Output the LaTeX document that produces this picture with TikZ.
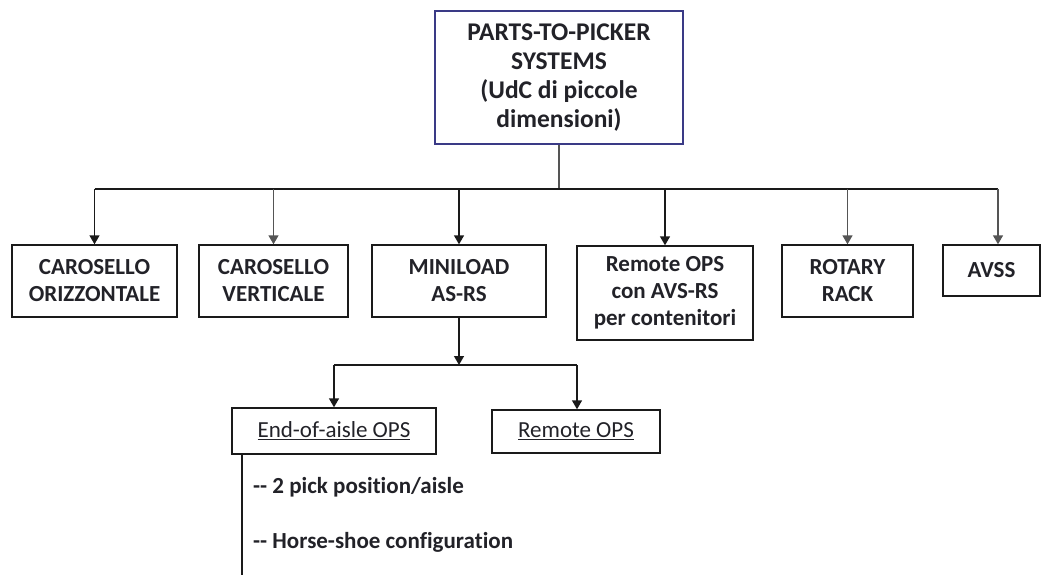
\documentclass[tikz,border=0pt]{standalone}
\usepackage{fontspec}
\setmainfont{Carlito}[Ligatures={NoCommon}]
\usetikzlibrary{arrows.meta}
\definecolor{ink}{HTML}{222228}
\definecolor{frameblue}{HTML}{3A3A86}
\definecolor{wire}{HTML}{1A1A1A}
\definecolor{wiregray}{HTML}{555555}
\tikzset{
  box/.style={draw=wire, line width=1.4pt, inner sep=0pt, align=center, text=ink,
    font=\fontsize{23}{27}\selectfont\bfseries},
  subbox/.style={box, font=\fontsize{23}{27}\selectfont},
  topbox/.style={box, draw=frameblue, font=\fontsize{25.5}{29}\selectfont\bfseries},
  link/.style={draw=wire, line width=1.4pt},
  arrowlink/.style={link, -{Triangle[width=10pt,length=9pt]}},
  note/.style={anchor=west, inner sep=0pt, text=ink, font=\fontsize{23}{27}\selectfont\bfseries}
}
\begin{document}
\begin{tikzpicture}[x=1pt,y=-1pt]
\useasboundingbox (0,0) rectangle (1046,575);

% root
\node[topbox, minimum width=248pt, minimum height=133pt] (top) at (559,77.5)
  {PARTS-TO-PICKER\\SYSTEMS\\(UdC di piccole\\dimensioni)};

% first level
\node[box, minimum width=165pt, minimum height=72pt] (co) at (94.5,281) {CAROSELLO\\ORIZZONTALE};
\node[box, minimum width=149pt, minimum height=72pt] (cv) at (273.5,281) {CAROSELLO\\VERTICALE};
\node[box, minimum width=174pt, minimum height=72pt] (ml) at (459,281) {MINILOAD\\AS-RS};
\node[box, minimum width=176pt, minimum height=94pt] (ro) at (665,293) {Remote OPS\\con AVS-RS\\per contenitori};
\node[box, minimum width=131pt, minimum height=72pt] (rr) at (847.5,281) {ROTARY\\RACK};
\node[box, minimum width=97pt, minimum height=51pt] (av) at (991.5,270.5) {AVSS};

% second level
\node[subbox, minimum width=204pt, minimum height=46pt] (ea) at (334,431) {\underline{End-of-aisle OPS}};
\node[subbox, minimum width=168pt, minimum height=43pt] (rm) at (576,431.5) {\underline{Remote OPS}};

% bus coordinates
\coordinate (bus) at (559,189);
\coordinate (bus2) at (459,365);
\coordinate (tail) at (242,575);

% root to first level
\draw[link, draw=wiregray] (top.south) -- (bus);
\draw[link] (co.north |- bus) -- ([xshift=6.5pt]av.north |- bus);
\draw[arrowlink] (co.north |- bus) -- (co.north);
\draw[arrowlink, draw=wiregray] (cv.north |- bus) -- (cv.north);
\draw[arrowlink] (ml.north |- bus) -- (ml.north);
\draw[arrowlink] (ro.north |- bus) -- (ro.north);
\draw[arrowlink, draw=wiregray] (rr.north |- bus) -- (rr.north);
\draw[arrowlink, draw=wiregray] ([xshift=6.5pt]av.north |- bus) -- ([xshift=6.5pt]av.north);

% miniload branch
\draw[arrowlink] (ml.south) -- (bus2);
\draw[link] (ea.north |- bus2) -- ([xshift=1pt]rm.north |- bus2);
\draw[arrowlink] (ea.north |- bus2) -- (ea.north);
\draw[arrowlink] ([xshift=1pt]rm.north |- bus2) -- ([xshift=1pt]rm.north);

% end-of-aisle options
\draw[link] (ea.south -| tail) -- (tail);
\node[note] (n1) at (253,487) {-{}- 2 pick position/aisle};
\node[note] (n2) at (253,542) {-{}- Horse-shoe configuration};
\end{tikzpicture}
\end{document}
